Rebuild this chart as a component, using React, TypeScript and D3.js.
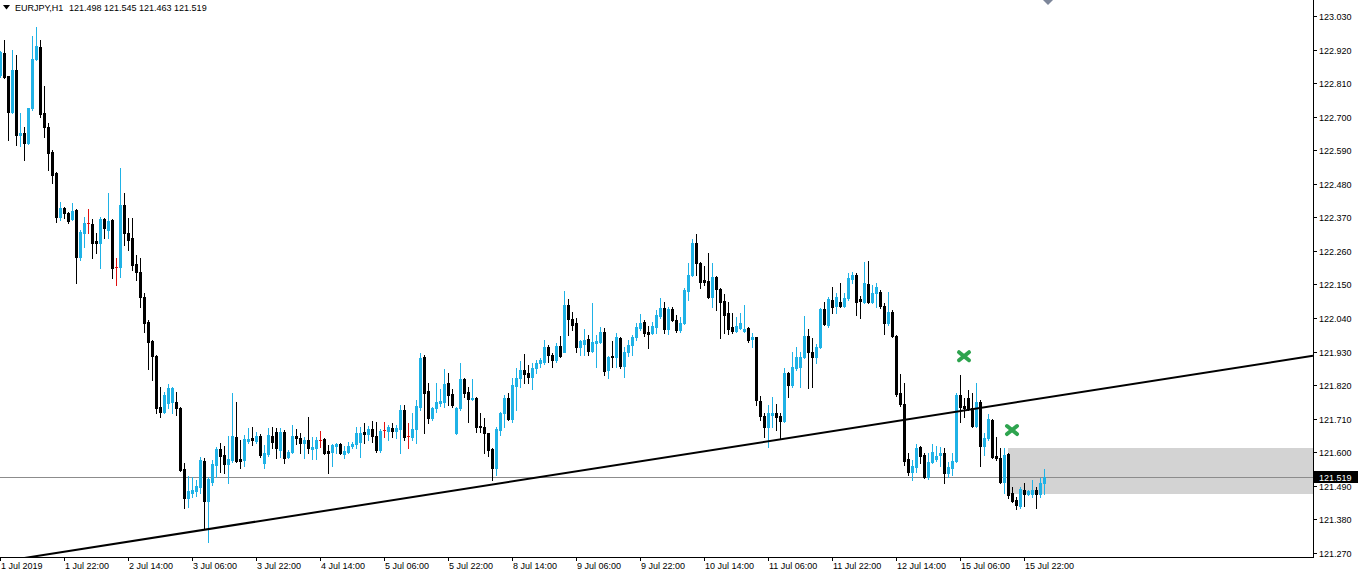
import React from "react";
import * as d3 from "d3";

const SYMBOL = "EURJPY,H1";
const LAST_OHLC = ["121.498", "121.545", "121.463", "121.519"];

const opens = [
  122.837,122.909,122.833,122.715,122.853,122.640,122.646,122.613,122.728,122.889,
  122.928,122.712,122.666,122.584,122.515,122.371,122.400,122.384,122.364,122.394,
  122.240,122.318,122.351,122.348,122.292,122.286,122.364,122.328,122.361,122.207,
  122.207,122.410,122.318,122.302,122.217,122.191,122.109,122.027,121.964,121.915,
  121.748,121.732,121.761,121.764,121.764,121.745,121.545,121.450,121.466,121.473,
  121.486,121.571,121.440,121.502,121.558,121.610,121.591,121.561,121.574,121.650,
  121.578,121.574,121.637,121.646,121.637,121.653,121.564,121.594,121.653,121.666,
  121.607,121.666,121.584,121.600,121.653,121.646,121.630,121.640,121.610,121.614,
  121.640,121.643,121.604,121.600,121.620,121.627,121.594,121.600,121.620,121.627,
  121.633,121.666,121.660,121.676,121.653,121.607,121.673,121.670,121.679,121.670,
  121.676,121.738,121.653,121.650,121.676,121.748,121.912,121.801,121.712,121.745,
  121.761,121.764,121.827,121.791,121.663,121.745,121.840,121.797,121.774,121.778,
  121.686,121.682,121.663,121.610,121.548,121.673,121.728,121.778,121.709,121.817,
  121.843,121.869,121.860,121.847,121.876,121.892,121.896,121.945,121.918,121.902,
  121.948,121.928,122.082,122.036,122.023,121.945,121.955,121.971,121.932,121.958,
  121.961,121.994,121.869,121.915,121.912,121.974,121.882,121.928,121.951,121.977,
  122.007,122.027,121.994,121.990,122.010,122.046,122.073,122.003,122.069,122.033,
  122.000,122.023,122.128,122.181,122.286,122.220,122.164,122.161,122.109,122.174,
  122.135,122.095,122.056,122.010,121.997,122.007,121.997,122.007,121.971,121.977,
  121.768,121.718,121.682,121.722,121.728,121.718,121.702,121.860,121.820,121.876,
  121.879,121.912,121.981,121.928,121.912,121.945,122.069,122.017,122.099,122.079,
  122.092,122.079,122.105,122.168,122.181,122.102,122.092,122.151,122.092,122.122,
  122.125,122.079,122.023,122.059,121.981,121.794,121.758,121.578,121.535,121.551,
  121.617,121.591,121.519,121.568,121.578,121.591,121.597,121.532,121.548,121.571,
  121.787,121.751,121.778,121.745,121.686,121.764,121.620,121.646,121.705,121.587,
  121.581,121.502,121.594,121.466,121.443,121.423,121.476,121.463,121.463,121.476,
  121.463,121.498,
];

const highs = [
  122.915,122.951,122.833,122.919,122.902,122.712,122.666,122.730,122.964,122.994,
  122.951,122.800,122.679,122.591,122.518,122.420,122.404,122.387,122.417,122.397,
  122.328,122.371,122.397,122.364,122.318,122.371,122.368,122.450,122.364,122.237,
  122.532,122.450,122.368,122.368,122.247,122.237,122.122,122.033,121.968,121.918,
  121.814,121.797,121.824,121.814,121.797,121.748,121.564,121.522,121.519,121.509,
  121.584,121.581,121.519,121.574,121.617,121.630,121.620,121.653,121.794,121.764,
  121.640,121.656,121.679,121.682,121.666,121.660,121.623,121.679,121.682,121.679,
  121.679,121.673,121.607,121.689,121.676,121.663,121.650,121.715,121.650,121.650,
  121.670,121.646,121.623,121.627,121.630,121.630,121.620,121.633,121.633,121.682,
  121.682,121.695,121.686,121.702,121.699,121.676,121.699,121.689,121.695,121.689,
  121.755,121.755,121.695,121.728,121.771,121.925,121.918,121.827,121.748,121.827,
  121.807,121.873,121.860,121.807,121.748,121.892,121.843,121.814,121.840,121.781,
  121.728,121.712,121.663,121.614,121.682,121.732,121.787,121.794,121.843,121.876,
  121.899,121.922,121.886,121.892,121.902,121.909,121.968,121.951,121.925,121.958,
  121.981,122.128,122.102,122.059,122.040,121.968,122.003,121.984,122.089,121.984,
  122.010,122.007,121.915,121.964,121.990,121.977,121.945,121.968,121.984,122.023,
  122.053,122.033,122.013,122.027,122.066,122.105,122.092,122.076,122.076,122.050,
  122.043,122.138,122.220,122.299,122.315,122.224,122.210,122.253,122.220,122.177,
  122.138,122.118,122.092,122.056,122.043,122.056,122.082,122.010,121.990,121.977,
  121.784,121.728,121.755,121.781,121.758,121.728,121.876,121.863,121.928,121.945,
  121.928,122.046,122.003,121.974,121.955,122.073,122.092,122.109,122.141,122.122,
  122.154,122.122,122.187,122.191,122.187,122.112,122.224,122.227,122.148,122.154,
  122.132,122.089,122.125,122.066,121.984,121.856,121.827,121.597,121.574,121.627,
  121.620,121.597,121.597,121.627,121.620,121.617,121.614,121.568,121.597,121.794,
  121.853,121.778,121.804,121.794,121.827,121.771,121.663,121.725,121.709,121.650,
  121.614,121.614,121.597,121.486,121.453,121.486,121.499,121.476,121.509,121.486,
  121.515,121.545,
];

const lows = [
  122.830,122.827,122.623,122.712,122.607,122.603,122.558,122.610,122.722,122.886,
  122.699,122.633,122.525,122.482,122.355,122.361,122.368,122.351,122.361,122.154,
  122.230,122.273,122.318,122.237,122.253,122.204,122.302,122.302,122.171,122.148,
  122.174,122.279,122.263,122.197,122.164,122.076,121.993,121.872,121.837,121.728,
  121.715,121.728,121.745,121.728,121.722,121.538,121.417,121.420,121.453,121.456,
  121.466,121.348,121.305,121.492,121.519,121.535,121.532,121.499,121.568,121.568,
  121.548,121.555,121.630,121.623,121.630,121.584,121.548,121.587,121.614,121.581,
  121.584,121.564,121.581,121.597,121.627,121.597,121.581,121.597,121.578,121.578,
  121.617,121.594,121.532,121.555,121.597,121.594,121.581,121.597,121.614,121.614,
  121.584,121.630,121.640,121.633,121.600,121.600,121.650,121.640,121.650,121.646,
  121.597,121.640,121.614,121.640,121.630,121.738,121.663,121.695,121.705,121.732,
  121.751,121.748,121.755,121.748,121.660,121.738,121.781,121.699,121.771,121.666,
  121.666,121.597,121.587,121.509,121.525,121.656,121.682,121.705,121.699,121.738,
  121.814,121.827,121.827,121.807,121.860,121.879,121.889,121.896,121.879,121.896,
  121.912,121.928,121.984,122.000,121.928,121.918,121.918,121.918,121.928,121.879,
  121.958,121.853,121.843,121.879,121.879,121.876,121.846,121.915,121.918,121.968,
  122.000,121.981,121.941,121.987,121.990,122.040,121.990,121.987,122.030,121.994,
  121.994,122.020,122.099,122.177,122.181,122.138,122.148,122.105,122.076,122.066,
  121.974,121.990,121.987,121.990,121.994,122.003,121.994,121.961,121.945,121.755,
  121.705,121.650,121.617,121.682,121.673,121.646,121.699,121.781,121.814,121.869,
  121.814,121.909,121.810,121.814,121.892,121.941,122.017,122.010,122.056,122.056,
  122.076,122.076,122.099,122.154,122.050,122.040,122.089,122.089,122.089,122.076,
  122.073,121.987,122.017,121.977,121.784,121.751,121.558,121.525,121.509,121.535,
  121.564,121.515,121.512,121.564,121.571,121.555,121.499,121.519,121.525,121.568,
  121.699,121.715,121.738,121.682,121.682,121.555,121.591,121.640,121.581,121.574,
  121.499,121.466,121.450,121.436,121.413,121.417,121.423,121.459,121.453,121.417,
  121.453,121.463,
];

const closes = [
  122.912,122.830,122.715,122.853,122.640,122.646,122.613,122.728,122.889,122.932,
  122.709,122.666,122.581,122.509,122.371,122.400,122.384,122.358,122.391,122.240,
  122.322,122.351,122.351,122.286,122.286,122.364,122.335,122.358,122.204,122.207,
  122.410,122.318,122.296,122.214,122.191,122.109,122.023,121.961,121.915,121.745,
  121.732,121.787,121.810,121.810,121.745,121.541,121.450,121.473,121.476,121.489,
  121.574,121.440,121.512,121.561,121.610,121.587,121.561,121.578,121.653,121.571,
  121.571,121.643,121.643,121.640,121.653,121.591,121.597,121.656,121.633,121.614,
  121.666,121.581,121.600,121.653,121.646,121.630,121.640,121.614,121.617,121.640,
  121.640,121.597,121.597,121.623,121.627,121.597,121.604,121.620,121.627,121.663,
  121.663,121.660,121.676,121.653,121.607,121.670,121.673,121.682,121.670,121.679,
  121.738,121.650,121.653,121.676,121.751,121.909,121.794,121.712,121.745,121.764,
  121.768,121.824,121.787,121.755,121.745,121.840,121.794,121.774,121.778,121.682,
  121.682,121.663,121.607,121.548,121.676,121.728,121.778,121.709,121.820,121.843,
  121.869,121.856,121.847,121.876,121.892,121.902,121.945,121.918,121.902,121.948,
  121.915,122.082,122.036,122.017,121.945,121.964,121.968,121.932,121.961,121.964,
  121.994,121.866,121.912,121.912,121.977,121.882,121.928,121.951,121.977,122.010,
  122.023,121.990,121.987,122.013,122.050,122.073,122.003,122.069,122.033,122.000,
  122.023,122.132,122.181,122.286,122.220,122.158,122.158,122.109,122.174,122.135,
  122.092,122.050,122.003,121.997,122.013,122.023,122.003,121.968,121.977,121.771,
  121.718,121.682,121.728,121.728,121.715,121.702,121.860,121.820,121.879,121.912,
  121.912,121.981,121.928,121.912,121.945,122.069,122.020,122.102,122.076,122.109,
  122.079,122.105,122.171,122.181,122.092,122.095,122.154,122.092,122.122,122.141,
  122.079,122.023,122.059,121.981,121.791,121.758,121.571,121.535,121.555,121.614,
  121.587,121.519,121.568,121.600,121.587,121.597,121.532,121.551,121.571,121.787,
  121.748,121.745,121.745,121.686,121.764,121.620,121.646,121.709,121.584,121.581,
  121.502,121.591,121.459,121.440,121.427,121.479,121.463,121.473,121.476,121.463,
  121.499,121.519,
];

const priceTicks = [
  "121.270","121.380","121.490","121.600","121.710","121.820","121.930","122.040","122.150",
  "122.260","122.370","122.480","122.590","122.700","122.810","122.920","123.030",
];

const dateLabels = [
  "1 Jul 2019","1 Jul 22:00","2 Jul 14:00","3 Jul 06:00","3 Jul 22:00","4 Jul 14:00",
  "5 Jul 06:00","5 Jul 22:00","8 Jul 14:00","9 Jul 06:00","9 Jul 22:00","10 Jul 14:00",
  "11 Jul 06:00","11 Jul 22:00","12 Jul 14:00","15 Jul 06:00","15 Jul 22:00",
];
const dateLabelStep = 16;

// trend line anchors: [bar index, price]
const trendIndex = [50, 240];
const trendPrice = [121.344, 121.735];

// zone rectangle
const zoneStartIndex = 252;
const zoneTop = 121.614;
const zoneBottom = 121.462;

// green cross markers
const crossIndex = [241, 253];
const crossPrice = [121.915, 121.673];

const BULL = "#1fb2e6";
const BEAR = "#000000";
const DOJI = "#e01010";
const FONT = "'Liberation Sans', Arial, sans-serif";

export default function App() {
  const W = 1359;
  const H = 577;
  const plotRight = 1313;
  const plotBottom = 557;
  const n = closes.length;

  const x = d3.scaleLinear().domain([0, n - 1]).range([0, (n - 1) * 4]);
  const y = d3.scaleLinear().domain([121.27, 123.03]).range([553, 16]);

  const last = closes[n - 1];

  const trendSlope = (trendPrice[1] - trendPrice[0]) / (trendIndex[1] - trendIndex[0]);
  const idxAt = (px: number) => x.invert(px);
  const tX1 = -20;
  const tX2 = plotRight;
  const tP1 = trendPrice[0] + trendSlope * (idxAt(tX1) - trendIndex[0]);
  const tP2 = trendPrice[0] + trendSlope * (idxAt(tX2) - trendIndex[0]);

  const candles = d3.range(n).map((i) => {
    const o = opens[i], c = closes[i], h = highs[i], l = lows[i];
    const color = o === c ? DOJI : c > o ? BULL : BEAR;
    const cx = Math.round(x(i));
    const top = Math.round(y(Math.max(o, c)));
    const bot = Math.round(y(Math.min(o, c)));
    const hy = Math.round(y(h));
    const ly = Math.round(y(l));
    return (
      <g key={i}>
        <rect x={cx} y={hy} width={1} height={Math.max(1, ly - hy + 1)} fill={color} />
        <rect x={cx - 1} y={top} width={3} height={Math.max(1, bot - top + 1)} fill={color} />
      </g>
    );
  });

  const crossSize = 6;

  return (
    <svg
      width={W}
      height={H}
      style={{ position: "absolute", left: 0, top: 0, background: "#fff" }}
      shapeRendering="crispEdges"
    >
      <defs>
        <clipPath id="plot">
          <rect x={0} y={0} width={plotRight} height={plotBottom} />
        </clipPath>
      </defs>
      <rect x={0} y={0} width={W} height={H} fill="#fff" />

      <g clipPath="url(#plot)">
        <rect
          x={x(zoneStartIndex)}
          y={y(zoneTop)}
          width={plotRight - x(zoneStartIndex)}
          height={y(zoneBottom) - y(zoneTop)}
          fill="#d3d3d3"
        />
        <line x1={0} x2={plotRight} y1={Math.round(y(last)) + 0.5} y2={Math.round(y(last)) + 0.5} stroke="#8c8c8c" strokeWidth={1} />
        {candles}
        <line
          x1={tX1}
          y1={y(tP1)}
          x2={tX2}
          y2={y(tP2)}
          stroke="#000"
          strokeWidth={2}
          shapeRendering="geometricPrecision"
        />
        {crossIndex.map((ci, k) => {
          const cx = x(ci);
          const cy = y(crossPrice[k]);
          return (
            <g key={k} stroke="#2ea44f" strokeWidth={4} strokeLinecap="round" shapeRendering="geometricPrecision">
              <line x1={cx - crossSize + 1} y1={cy - crossSize + 2} x2={cx + crossSize - 1} y2={cy + crossSize - 2} />
              <line x1={cx - crossSize + 1} y1={cy + crossSize - 2} x2={cx + crossSize - 1} y2={cy - crossSize + 2} />
            </g>
          );
        })}
        <path d="M1043,0 L1048,-5 L1053,0 L1048,5 Z" fill="#7d869a" shapeRendering="geometricPrecision" />
      </g>

      <line x1={plotRight + 0.5} x2={plotRight + 0.5} y1={0} y2={plotBottom + 1} stroke="#000" />
      <line x1={0} x2={plotRight + 1} y1={plotBottom + 0.5} y2={plotBottom + 0.5} stroke="#000" />

      {priceTicks.map((t) => {
        const ty = Math.round(y(+t)) + 0.5;
        return (
          <g key={t}>
            <line x1={plotRight + 1} x2={plotRight + 4} y1={ty} y2={ty} stroke="#000" />
            <text x={plotRight + 6} y={ty + 3.5} fontSize={9} fontFamily={FONT} fill="#000">
              {t}
            </text>
          </g>
        );
      })}

      <rect x={plotRight + 1} y={Math.round(y(last)) - 6} width={44} height={12} fill="#000" />
      <text x={plotRight + 6} y={Math.round(y(last)) + 4} fontSize={9} fontFamily={FONT} fill="#fff">
        {last.toFixed(3)}
      </text>

      {dateLabels.map((lab, k) => {
        const lx = Math.round(x(k * dateLabelStep));
        return (
          <g key={lab}>
            <line x1={lx + 0.5} x2={lx + 0.5} y1={plotBottom + 1} y2={plotBottom + 4} stroke="#000" />
            <text x={lx + 1} y={plotBottom + 12} fontSize={9} fontFamily={FONT} fill="#000">
              {lab}
            </text>
          </g>
        );
      })}

      <path d="M3,5 L10,5 L6.5,9.5 Z" fill="#000" shapeRendering="geometricPrecision" />
      <text x={15} y={11} fontSize={9} fontFamily={FONT} fill="#000">
        {SYMBOL}
      </text>
      <text x={69} y={11} fontSize={9} fontFamily={FONT} fill="#000">
        {LAST_OHLC.join(" ")}
      </text>
    </svg>
  );
}
